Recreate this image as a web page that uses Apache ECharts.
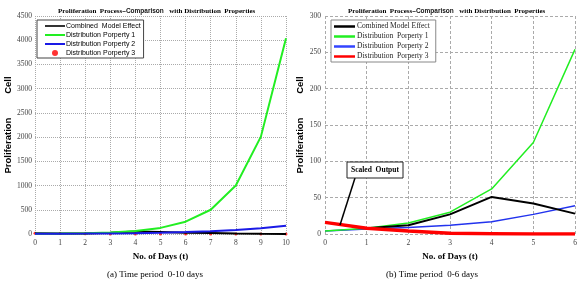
<!DOCTYPE html>
<html>
<head>
<meta charset="utf-8">
<script src="https://cdn.jsdelivr.net/npm/echarts@6/dist/echarts.min.js"></script>
<style>
  html, body { margin: 0; padding: 0; background: #fff; }
  #chart { width: 585px; height: 287px; }
</style>
</head>
<body>
<div id="chart"></div>
<script>
// values (days 0..10)
const days = [0, 1, 2, 3, 4, 5, 6, 7, 8, 9, 10]
const combined = [16, 8, 12, 27, 51, 42, 28, 20, 10, 3, 0]
const property1 = [4, 8, 15, 30, 62, 126, 254, 500, 1000, 2010, 4040]
const property2 = [4, 7, 9, 12, 17, 27, 39, 55, 82, 120, 172]
const property3 = [16, 8, 4, 1, 0.5, 0, 0, 0, 0, 0, 0]

const yTicksA = { min: 0, max: 4500, interval: 500 }
const yTicksB = { min: 0, max: 300, interval: 50 }

const serif = 'Liberation Serif'
const sans = 'Liberation Sans'

// panel (a) shows days 0-10, panel (b) days 0-6
const pairs = (arr, lastDay = 10) =>
  days.map((d, i) => [d, arr[i]]).filter(p => p[0] <= lastDay)

const chart = echarts.init(document.getElementById('chart'))

const titleRich = {
  b: { fontFamily: serif, fontWeight: 'bold', fontSize: 7, color: '#000' },
  s: { fontFamily: sans, fontSize: 6.5, color: '#111' }
}
const titleText = '{b|Proliferation  Process}{s|–Comparison   }{b|with Distribution  Properties}'

const axisLabel = { fontFamily: serif, fontSize: 7.5, color: '#444', margin: 5, formatter: v => String(v) }
const yName = 'Proliferation         Cell'
const nameStyle = { fontFamily: sans, fontWeight: 'bold', fontSize: 9.5, color: '#000' }
const xNameStyle = { fontFamily: serif, fontWeight: 'bold', fontSize: 9, color: '#000' }

const lineIcon = 'path://M0,0L20,0L20,2L0,2Z'
const thickIcon = 'path://M0,0L21,0L21,2.5L0,2.5Z'

const option = {
  animation: false,
  title: [
    { text: titleText, left: 53, top: 3, textStyle: { rich: titleRich } },
    { text: titleText, left: 343, top: 3, textStyle: { rich: titleRich } }
  ],
  legend: [
    {
      orient: 'vertical', left: 37, top: 20,
      padding: [2.5, 3, 1.5, 8], itemGap: 2, itemWidth: 20, itemHeight: 6,
      borderColor: '#444', borderWidth: 1, backgroundColor: '#fff',
      textStyle: { fontFamily: sans, fontSize: 7, lineHeight: 7, color: '#000', padding: [0, 0, 0, -4] },
      data: [
        { name: 'Combined  Model Effect', icon: lineIcon },
        { name: 'Distribution Porperty 1', icon: lineIcon },
        { name: 'Distribution Porperty 2', icon: lineIcon },
        { name: 'Distribution Porperty 3', icon: 'circle' }
      ]
    },
    {
      orient: 'vertical', left: 331, top: 20,
      padding: [2.5, 6, 1.5, 3], itemGap: 2, itemWidth: 21, itemHeight: 7,
      borderColor: '#888', borderWidth: 1, backgroundColor: '#fff',
      textStyle: { fontFamily: serif, fontSize: 7.5, lineHeight: 7, color: '#222', padding: [0, 0, 0, -3] },
      data: [
        { name: 'Combined Model Effect', icon: thickIcon },
        { name: 'Distribution  Porperty 1', icon: thickIcon },
        { name: 'Distribution  Porperty 2', icon: thickIcon },
        { name: 'Distribution  Porperty 3', icon: thickIcon }
      ]
    }
  ],
  grid: [
    { left: 35, top: 16, width: 251, height: 218 },
    { left: 325, top: 16, width: 250, height: 218 }
  ],
  xAxis: [
    {
      gridIndex: 0, type: 'value', min: 0, max: 10, interval: 1,
      name: 'No. of Days (t)', nameLocation: 'middle', nameGap: 11, nameTextStyle: xNameStyle,
      axisLine: { show: false }, axisTick: { show: false }, axisLabel,
      splitLine: { lineStyle: { type: 'dotted', color: '#aaa', width: 1 } }
    },
    {
      gridIndex: 1, type: 'value', min: 0, max: 6, interval: 1,
      name: 'No. of Days (t)', nameLocation: 'middle', nameGap: 11, nameTextStyle: xNameStyle,
      axisLine: { show: false }, axisTick: { show: false }, axisLabel,
      splitLine: { lineStyle: { type: [3, 2], color: '#aaa', width: 1 } }
    }
  ],
  yAxis: [
    {
      gridIndex: 0, type: 'value', ...yTicksA,
      name: yName, nameLocation: 'middle', nameGap: 21, nameTextStyle: nameStyle,
      axisLine: { show: false }, axisTick: { show: false }, axisLabel: { ...axisLabel, margin: 3 },
      splitLine: { lineStyle: { type: 'dotted', color: '#aaa', width: 1 } }
    },
    {
      gridIndex: 1, type: 'value', ...yTicksB,
      name: yName, nameLocation: 'middle', nameGap: 18, nameTextStyle: nameStyle,
      axisLine: { show: false }, axisTick: { show: false }, axisLabel: { ...axisLabel, margin: 4 },
      splitLine: { lineStyle: { type: [3, 2], color: '#aaa', width: 1 } }
    }
  ],
  series: [
    // (a) 0-10 days
    { name: 'Distribution Porperty 3', type: 'scatter', xAxisIndex: 0, yAxisIndex: 0,
      data: pairs(property3), symbolSize: 3, itemStyle: { color: '#ff0000' }, z: 1 },
    { name: 'Combined  Model Effect', type: 'line', xAxisIndex: 0, yAxisIndex: 0,
      data: pairs(combined), symbol: 'none', lineStyle: { color: '#000', width: 2 }, itemStyle: { color: '#333' }, z: 2 },
    { name: 'Distribution Porperty 1', type: 'line', xAxisIndex: 0, yAxisIndex: 0,
      data: pairs(property1), symbol: 'none', lineStyle: { color: '#22ee22', width: 2 }, itemStyle: { color: '#22ee22' }, z: 3 },
    { name: 'Distribution Porperty 2', type: 'line', xAxisIndex: 0, yAxisIndex: 0,
      data: pairs(property2), symbol: 'none', lineStyle: { color: '#1a1ae6', width: 2 }, itemStyle: { color: '#1a1ae6' }, z: 4 },
    // (b) 0-6 days
    { name: 'Distribution  Porperty 2', type: 'line', xAxisIndex: 1, yAxisIndex: 1,
      data: pairs(property2, 6), symbol: 'none', lineStyle: { color: '#2233ee', width: 1.5 }, itemStyle: { color: '#3344ff' } },
    { name: 'Distribution  Porperty 1', type: 'line', xAxisIndex: 1, yAxisIndex: 1,
      data: pairs(property1, 6), symbol: 'none', lineStyle: { color: '#22ee22', width: 1.5 }, itemStyle: { color: '#22ee22' } },
    { name: 'Combined Model Effect', type: 'line', xAxisIndex: 1, yAxisIndex: 1,
      data: pairs(combined, 6), symbol: 'none', lineStyle: { color: '#000', width: 2 }, itemStyle: { color: '#000' } },
    { name: 'Distribution  Porperty 3', type: 'line', xAxisIndex: 1, yAxisIndex: 1,
      data: pairs(property3, 6), symbol: 'none', lineStyle: { color: '#ff0000', width: 3.5 }, itemStyle: { color: '#ff0000' } }
  ]
}

chart.setOption(option)

// annotation "Scaled Output" pointing at the combined curve near day 0.36
const tip = chart.convertToPixel({ xAxisIndex: 1, yAxisIndex: 1 }, [0.36, 12.5])
chart.setOption({
  graphic: [
    { type: 'line', shape: { x1: 355, y1: 178, x2: tip[0], y2: tip[1] },
      style: { stroke: '#000', lineWidth: 1.5 }, z: 100 },
    { type: 'rect', shape: { x: 347, y: 162, width: 56, height: 16 },
      style: { fill: '#fff', stroke: '#222', lineWidth: 1 }, z: 100 },
    { type: 'text', x: 375, y: 170, z: 101,
      style: { text: 'Scaled  Output', fontFamily: serif, fontWeight: 'bold', fontSize: 7.5,
        fill: '#000', align: 'center', verticalAlign: 'middle' } },
    { type: 'text', x: 155, y: 275, z: 101,
      style: { text: '(a) Time period  0-10 days', fontFamily: serif, fontSize: 9,
        fill: '#000', align: 'center', verticalAlign: 'middle' } },
    { type: 'text', x: 432, y: 275, z: 101,
      style: { text: '(b) Time period  0-6 days', fontFamily: serif, fontSize: 9,
        fill: '#000', align: 'center', verticalAlign: 'middle' } }
  ]
})
</script>
</body>
</html>
